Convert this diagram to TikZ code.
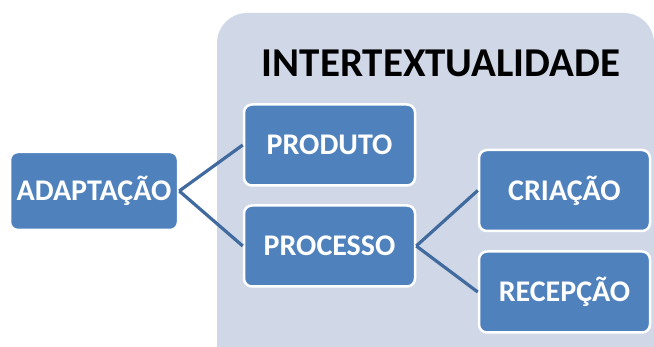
\documentclass[tikz,border=0pt]{standalone}
\usepackage{fontspec}
\setmainfont{Carlito}
\definecolor{panelbg}{HTML}{D0D8E8}
\definecolor{boxfill}{HTML}{4F81BD}
\definecolor{linkcol}{RGB}{65,106,158}
\tikzset{
  conceptbox/.style={draw=white, line width=2.5pt, fill=boxfill, rounded corners=8pt,
    minimum width=171pt, minimum height=81pt, inner sep=0pt,
    text=white, font=\bfseries\fontsize{30}{30}\selectfont},
  link/.style={draw=linkcol, line width=3.2pt}
}
\begin{document}
\begin{tikzpicture}[x=1pt,y=-1pt]
  \useasboundingbox (0,0) rectangle (654,347);
  \begin{scope}
    \clip (0,0) rectangle (654,347);
    \fill[panelbg, rounded corners=30pt] (217,13) rectangle (654,400);
  \end{scope}
  \node[font=\bfseries\fontsize{41}{41}\selectfont, text=black] (title) at (441,63) {INTERTEXTUALIDADE};

  \node[conceptbox, minimum width=168pt, minimum height=78pt] (adapt) at (94,191) {ADAPTAÇÃO};
  \node[conceptbox] (prod) at (329.5,145) {PRODUTO};
  \node[conceptbox] (proc) at (329.5,246) {PROCESSO};
  \node[conceptbox] (cria) at (564.5,190.5) {CRIAÇÃO};
  \node[conceptbox] (recep) at (564.5,292) {RECEPÇÃO};

  \draw[link] (adapt.east) -- (prod.west);
  \draw[link] (adapt.east) -- (proc.west);
  \draw[link] (proc.east) -- (cria.west);
  \draw[link] (proc.east) -- (recep.west);
\end{tikzpicture}
\end{document}
